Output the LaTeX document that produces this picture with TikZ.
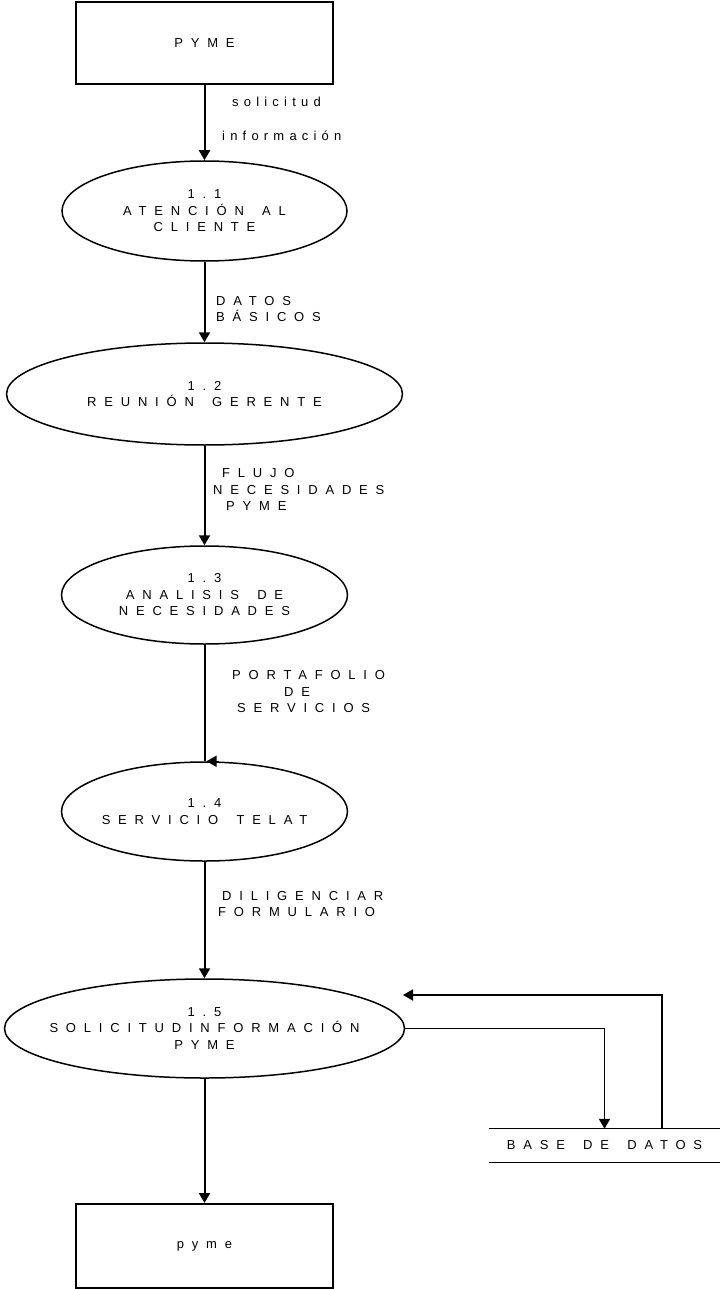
\documentclass[tikz,border=0pt]{standalone}
\usepackage{fontspec}
\setmainfont{Liberation Sans}[LetterSpace=60, WordSpace=1.6]
\newfontfamily\minusc{Liberation Sans}[LetterSpace=40]
\usetikzlibrary{shapes.geometric}
\usetikzlibrary{arrows.meta}
\tikzset{
  every node/.style={font=\fontsize{13}{16.5}\selectfont},
  entidad/.style={draw, line width=2pt, minimum width=257pt, minimum height=82pt, inner sep=0pt},
  proceso/.style={ellipse, draw, line width=1.5pt, inner xsep=-20pt, inner ysep=0pt, align=center},
  flujo/.style={-{Triangle[length=10pt,width=11pt]}, line width=2pt},
  etiqueta/.style={anchor=base west, align=left, inner sep=0pt},
}

\begin{document}
\begin{tikzpicture}[x=1pt,y=1pt]
  \useasboundingbox (0,0) rectangle (720,-1289);

  % entidades externas
  \node [entidad] (pyme) at (204.5,-43.5) {PYME};
  \node [entidad, minimum height=84pt] (pymefin) at (204.5,-1246) {pyme};

  % procesos
  \node [proceso, minimum width=285pt, minimum height=100pt] (p11) at (204.5,-211) {1.1\\ATENCIÓN AL\\CLIENTE};
  \node [proceso, minimum width=396pt, minimum height=102pt] (p12) at (204.5,-394) {1.2\\REUNIÓN GERENTE};
  \node [proceso, minimum width=286pt, minimum height=98pt] (p13) at (204.5,-595) {1.3\\ANALISIS DE\\NECESIDADES};
  \node [proceso, minimum width=286pt, minimum height=99pt] (p14) at (204.5,-811.5) {1.4\\SERVICIO TELAT};
  \node [proceso, minimum width=400pt, minimum height=99pt] (p15) at (204.5,-1028.5) {1.5\\SOLICITUDINFORMACIÓN\\PYME};

  % almacen
  \node [minimum width=231pt, minimum height=33pt, inner sep=0pt] (bd) at (604.5,-1145.5) {BASE DE DATOS};
  \draw [line width=1.3pt] (bd.north west) -- (bd.north east);
  \draw [line width=1.3pt] (bd.south west) -- (bd.south east);

  % flujos
  \draw [flujo] (pyme.south) -- (p11.north);
  \draw [flujo] (p11.south) -- (p12.north);
  \draw [flujo] (p12.south) -- (p13.north);
  \draw [line width=2pt] (p13.south) -- (p14.north);
  \draw [flujo, line width=1.5pt] ([xshift=14pt]p14.north) -- ([xshift=2pt]p14.north);
  \draw [flujo] (p14.south) -- (p15.north);
  \draw [flujo] (p15.south) -- (pymefin.north);
  \draw [flujo, line width=1.8pt] (p15.east) -| (bd.north);
  \coordinate (ret) at (403,-995);
  \draw [flujo, line width=1.8pt] ([xshift=57.5pt]bd.north) |- (ret);

  % etiquetas
  \node [etiqueta, font=\fontsize{13}{16.5}\minusc] (e1) at (222,-141) {\hspace*{10pt}solicitud\\[17.5pt]información};
  \node [etiqueta] (e2) at (216,-321.5) {DATOS\\BÁSICOS};
  \node [etiqueta] (e3) at (213,-510.5) {\hspace*{9pt}FLUJO\\NECESIDADES\\\hspace*{13pt}PYME};
  \node [etiqueta] (e4) at (232,-712.5) {PORTAFOLIO\\\hspace*{52pt}DE\\\hspace*{5pt}SERVICIOS};
  \node [etiqueta] (e5) at (218,-916.5) {\hspace*{4pt}DILIGENCIAR\\FORMULARIO};
\end{tikzpicture}
\end{document}
